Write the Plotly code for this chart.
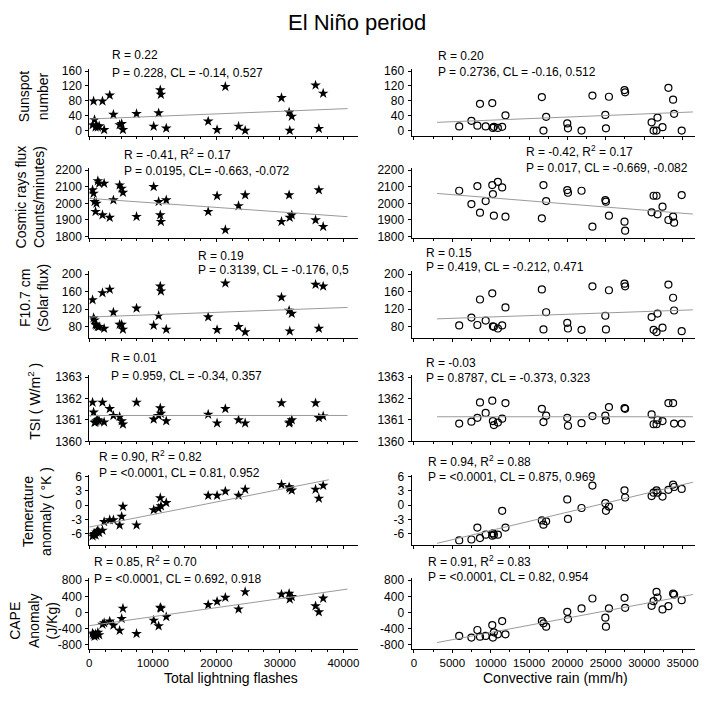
import numpy as np
import plotly.graph_objects as go

# ---------------- data ----------------
# Monthly values during the El Niño period
flashes = [520, 680, 830, 990, 1140, 1350, 1560, 2080, 2340, 3220, 3800, 4780, 5100, 5300,
           7440, 10140, 10920, 11180, 11280, 12120, 18720, 20120, 21420, 23500, 24540,
           30260, 31460, 31560, 31880, 35620, 36140, 36820]
rain = [5900, 7490, 8270, 8610, 9350, 10210, 10290, 10420, 10940, 11500, 11930, 16670,
        16880, 17230, 19980, 20070, 21840, 23260, 24940, 25020, 25410, 27440, 27520,
        30970, 31230, 31610, 31740, 32390, 33160, 33770, 33900, 34890]

sunspot_l = [15, 79, 29, 9, 13, 9, 12, 79, 2, 95, 43, 15, 18, 2, 45, 11, 47, 109, 97, 6,
             25, 2, 118, 11, 0, 88, 49, 0, 38, 122, 5, 100]
cosmic_l = [2080, 2060, 2010, 1950, 2000, 2135, 2120, 1930, 2120, 1915, 2020, 2110, 2090,
            2065, 1920, 2100, 2010, 1930, 1890, 2020, 1950, 2045, 1840, 1985, 2050, 1890,
            2050, 1915, 1930, 1900, 2080, 1860]
f107_l = [141, 100, 95, 85, 83, 80, 80, 157, 76, 165, 113, 85, 85, 74, 122, 83, 105, 172,
          161, 74, 102, 73, 179, 80, 68, 147, 117, 70, 110, 176, 76, 172]
tsi_l = [1361.82, 1361.36, 1360.88, 1360.9, 1360.95, 1361.0, 1360.95, 1361.82, 1360.9,
         1361.52, 1361.2, 1361.15, 1360.95, 1360.8, 1361.82, 1361.03, 1361.2, 1361.56,
         1361.3, 1360.95, 1361.26, 1360.85, 1361.52, 1361.0, 1360.85, 1361.79, 1360.85,
         1360.9, 1361.0, 1361.79, 1361.1, 1361.18]
temp_l = [-6.5, -6.2, -6.0, -6.3, -5.7, -5.3, -5.8, -5.3, -3.5, -3.1, -3.1, -4.2, -2.4,
          -0.3, -4.2, -1.0, -0.7, 1.5, -0.2, 0.5, 2.0, 2.0, 2.9, 2.0, 3.3, 4.3, 3.8, 3.5,
          3.1, 3.3, 1.4, 4.1]
cape_l = [-520, -560, -600, -540, -580, -500, -560, -300, -260, -220, -320, -450, -155,
          100, -530, -200, -340, 120, 100, -110, 190, 270, 370, 80, 510, 450, 470, 330,
          390, 160, 10, 350]

sunspot_r = [11, 26, 13, 72, 11, 74, 7, 10, 7, 10, 41, 90, 0, 37, 19, 6, 0, 94, 42, 6, 91,
             109, 103, 22, 0, 0, 35, 9, 115, 83, 45, 0]
cosmic_r = [2076, 1996, 2104, 1944, 2014, 2110, 2056, 1926, 2130, 2096, 1920, 1910, 2110,
            2014, 2080, 2064, 2076, 1860, 2020, 2010, 1926, 1890, 1836, 1946, 2046, 2046,
            1934, 1980, 1900, 1920, 1884, 2050]
f107_r = [83, 101, 84, 142, 94, 156, 81, 80, 76, 83, 124, 165, 74, 113, 89, 76, 73, 172,
          105, 74, 163, 178, 172, 102, 73, 68, 110, 78, 176, 146, 117, 70]
tsi_r = [1360.83, 1360.92, 1361.1, 1361.82, 1361.33, 1361.9, 1360.95, 1360.76, 1360.88,
         1361.06, 1361.79, 1361.52, 1360.9, 1361.2, 1361.1, 1360.73, 1360.85, 1361.18,
         1361.2, 1360.98, 1361.6, 1361.56, 1361.52, 1361.26, 1360.8, 1360.8, 1361.0,
         1360.95, 1361.79, 1361.79, 1360.83, 1360.83]
temp_r = [-7.4, -7.2, -4.7, -6.9, -6.2, -6.4, -5.9, -6.2, -6.2, -1.2, -4.7, -3.2, -4.1,
          -3.4, 1.2, -2.9, -0.6, 4.1, 0.4, -1.2, -0.3, 3.1, 1.6, 1.9, 2.6, 3.1, 2.6, 1.8,
          3.2, 4.3, 3.8, 3.4]
cape_r = [-586, -627, -438, -603, -586, -314, -627, -495, -545, -215, -545, -215, -272,
          -355, 16, -165, 99, 346, -132, -355, 99, 363, 115, 165, 280, 511, 371, 74, 156,
          470, 445, 305]

# Linear regression lines: (intercept, slope) per panel, and their x extent
fit_l = [(31, 6.9e-4), (2030, -2.71e-3), (102, 5.4e-4), (1361.21, 0.0),
         (-4.6, 2.63e-4), (-330, 0.0224)]
fit_r = [(19.5, 8.4e-4), (2071, -3.72e-3), (96.1, 6.15e-4), (1361.15, 0.0),
         (-9.16, 3.84e-4), (-858, 0.03585)]
fit_span_l = [[0, 40660], [0, 40660], [0, 40660], [0, 40660], [0, 37700], [0, 40660]]
fit_span_r = [[3015, 36350]] * 6

# Statistics printed above each panel (left: lightning, right: convective rain)
stats_l = [
    ("R = 0.22", "P = 0.228, CL = -0.14, 0.527"),
    ("R = -0.41, R<sup>2</sup> = 0.17", "P = 0.0195, CL= -0.663, -0.072"),
    ("R = 0.19", "P = 0.3139, CL = -0.176, 0,5"),
    ("R = 0.01", "P = 0.959, CL = -0.34, 0.357"),
    ("R = 0.90, R<sup>2</sup> = 0.82", "P = <0.0001, CL = 0.81, 0.952"),
    ("R = 0.85, R<sup>2</sup> = 0.70", "P = <0.0001, CL = 0.692, 0.918"),
]
stats_r = [
    ("R = 0.20", "P = 0.2736, CL = -0.16, 0.512"),
    ("R = -0.42, R<sup>2</sup> = 0.17", "P = 0.017, CL = -0.669, -0.082"),
    ("R = 0.15", "P = 0.419, CL = -0.212, 0.471"),
    ("R = -0.03", "P = 0.8787, CL = -0.373, 0.323"),
    ("R = 0.94, R<sup>2</sup> = 0.88", "P = <0.0001, CL = 0.875, 0.969"),
    ("R = 0.91, R<sup>2</sup> = 0.83", "P = <0.0001, CL = 0.82, 0.954"),
]

y_titles = [
    "Sunspot<br>number",
    "Cosmic rays flux<br>Counts/minutes)",
    "F10.7 cm<br>(Solar flux)",
    "TSI ( W/m<sup>2</sup> )",
    "Temerature<br>anomaly ( °K )",
    "CAPE<br>Anomaly<br>(J/Kg)",
]
y_ticks = [
    [0, 40, 80, 120, 160],
    [1800, 1900, 2000, 2100, 2200],
    [80, 120, 160, 200],
    [1360, 1361, 1362, 1363],
    [-6, -3, 0, 3, 6],
    [-800, -400, 0, 400, 800],
]
y_ranges = [[-14, 166], [1792, 2212], [54, 206], [1360, 1363.12], [-8.27, 6.35], [-905, 856]]

left_series = [sunspot_l, cosmic_l, f107_l, tsi_l, temp_l, cape_l]
right_series = [sunspot_r, cosmic_r, f107_r, tsi_r, temp_r, cape_r]

# ---------------- layout geometry (pixels) ----------------
W, H = 713, 701
row_px = [(65, 133), (166, 237), (271, 339), (376, 444), (478, 549), (583, 655)]
col_px = [(87, 358), (412, 698)]
x_ranges = [[0, 42300], [-310, 36640]]
x_dticks = [10000, 5000]

FONT = "Liberation Sans, Arial, sans-serif"


def px_x(p):
    return p / W


def px_y(p):
    return 1 - p / H


fig = go.Figure()
layout = dict(
    width=W, height=H, margin=dict(l=0, r=0, t=0, b=0),
    paper_bgcolor="white", plot_bgcolor="white", showlegend=False,
)
annotations = []

for r in range(6):
    top, bot = row_px[r]
    for c in range(2):
        k = 2 * r + c + 1
        xs = flashes if c == 0 else rain
        ys = left_series[r] if c == 0 else right_series[r]
        xname = "x" if k == 1 else f"x{k}"
        yname = "y" if k == 1 else f"y{k}"

        if c == 0:
            marker = dict(symbol="star", size=8, color="black", line=dict(width=0))
        else:
            marker = dict(symbol="circle-open", size=7, color="black",
                          line=dict(width=1.2, color="black"))
        fig.add_trace(go.Scatter(x=xs, y=ys, mode="markers", marker=marker,
                                 xaxis=xname, yaxis=yname, hoverinfo="x+y"))

        # regression line
        icpt, slope = fit_l[r] if c == 0 else fit_r[r]
        span = np.array(fit_span_l[r] if c == 0 else fit_span_r[r], float)
        fig.add_trace(go.Scatter(x=span, y=icpt + slope * span, mode="lines",
                                 line=dict(color="#9a9a9a", width=1),
                                 xaxis=xname, yaxis=yname, hoverinfo="skip"))

        x0, x1 = col_px[c]
        xkey = "xaxis" if k == 1 else f"xaxis{k}"
        ykey = "yaxis" if k == 1 else f"yaxis{k}"
        bottom_row = r == 5
        dt = x_dticks[c]
        xt = list(range(0, int(x_ranges[c][1]) + 1, dt))
        layout[xkey] = dict(
            domain=[px_x(x0), px_x(x1)], range=x_ranges[c], anchor=yname,
            showline=True, linecolor="black", linewidth=1, mirror=False,
            showgrid=False, zeroline=False,
            ticks="outside", ticklen=3, tickwidth=1, tickcolor="black",
            tickvals=xt, ticktext=[str(v) for v in xt], tickangle=0,
            showticklabels=bottom_row,
            tickfont=dict(family=FONT, size=11.5, color="black"),
            minor=dict(tickvals=list(range(0, int(x_ranges[c][1]) + 1, 2500)),
                       ticks="outside", ticklen=2, tickcolor="black", showgrid=False),
        )
        yt = y_ticks[r]
        layout[ykey] = dict(
            domain=[px_y(bot), px_y(top)], range=y_ranges[r], anchor=xname,
            showline=True, linecolor="black", linewidth=1, mirror=False,
            showgrid=False, zeroline=False,
            ticks="outside", ticklen=3, tickwidth=1, tickcolor="black",
            tickvals=yt, ticktext=[f"{v:g}" for v in yt],
            tickfont=dict(family=FONT, size=12, color="black"),
            ticklabelstandoff=1,
        )

# statistics text
stat_pos_l = [(108, 51, 69), (120, 152, 169), (195, 255, 270), (107, 359, 377),
              (95, 459, 476), (90, 566, 584)]
stat_pos_r = [(437, 52, 68), (525, 149, 166), (425, 252, 267), (425, 364, 380),
              (427, 464, 480), (427, 566, 582)]
for r in range(6):
    for stats, pos in ((stats_l, stat_pos_l), (stats_r, stat_pos_r)):
        x, y1, y2 = pos[r]
        for txt, yy in ((stats[r][0], y1), (stats[r][1], y2)):
            annotations.append(dict(
                text=txt, x=px_x(x), y=px_y(yy), xref="paper", yref="paper",
                xanchor="left", yanchor="middle", showarrow=False,
                font=dict(family=FONT, size=12, color="black")))

# y-axis titles (rotated)
ytitle_pos = [(31, 93), (27, 195), (31, 298), (31, 403), (34, 515), (31, 627)]
for r in range(6):
    x, y = ytitle_pos[r]
    annotations.append(dict(
        text=y_titles[r], x=px_x(x), y=px_y(y), xref="paper", yref="paper",
        xanchor="center", yanchor="middle", showarrow=False, textangle=-90,
        font=dict(family=FONT, size=14, color="black")))

# x-axis titles and figure title
for txt, x, y, size in (("Total lightning flashes", 230, 685, 14),
                        ("Convective rain (mm/h)", 557, 685, 14),
                        ("El Niño period", 357, 18, 22)):
    annotations.append(dict(text=txt, x=px_x(x), y=px_y(y), xref="paper", yref="paper",
                            xanchor="center", yanchor="middle", showarrow=False,
                            font=dict(family=FONT, size=size, color="black")))

layout["annotations"] = annotations
fig.update_layout(**layout)
fig.write_html("out.html")
